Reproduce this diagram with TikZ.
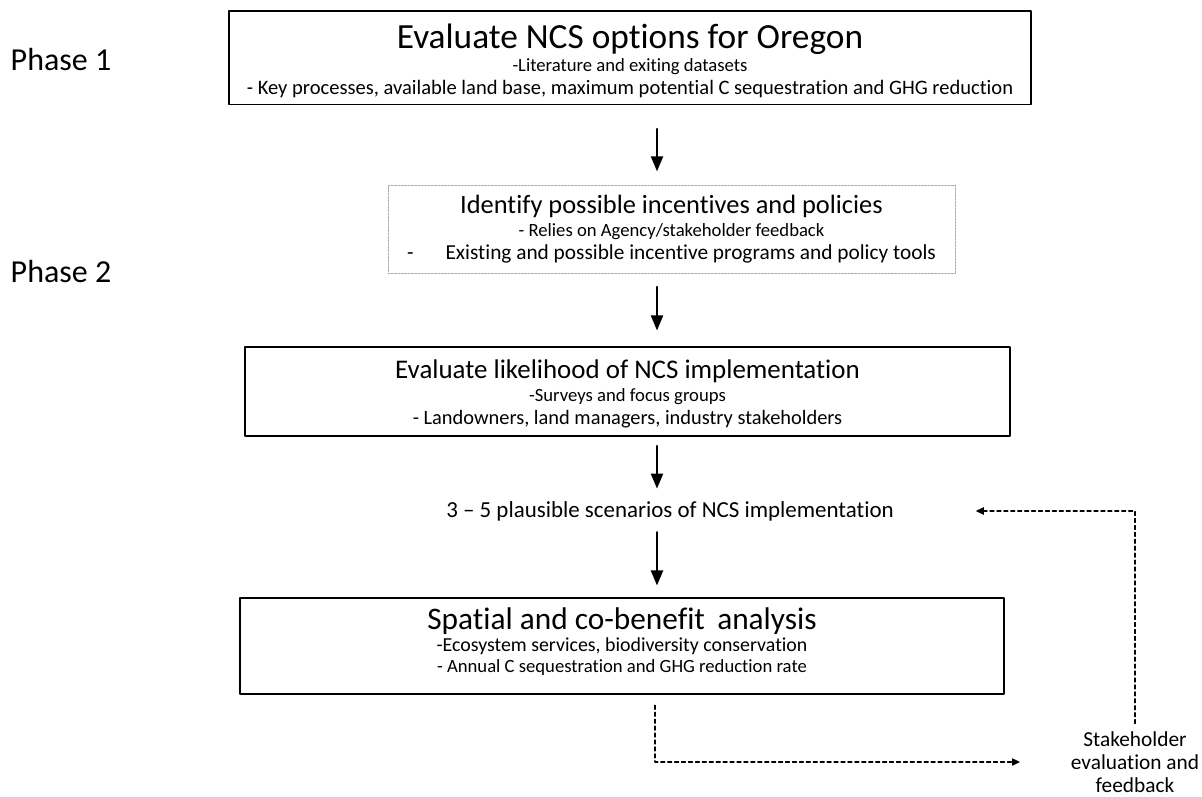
\documentclass[tikz,border=0pt]{standalone}
\usepackage{fontspec}
\setmainfont{Carlito}[Ligatures=NoCommon]
\usetikzlibrary{arrows,arrows.meta}
\usetikzlibrary{calc}
\newcommand{\fs}[2]{\fontsize{#1}{#2}\selectfont\lineskiplimit=-30pt\relax}
\begin{document}
\begin{tikzpicture}[line cap=round,line join=round,>=triangle 45,x=0.75pt,y=-0.75pt,
  phase/.style={anchor=west,font=\fs{24}{28}},
  stepbox/.style={draw=black,line width=1pt,align=center,inner sep=0pt},
  idbox/.style={draw=gray!65,line width=0.7pt,dash pattern=on 1.5pt off 1pt,align=center,inner sep=0pt},
  flow/.style={->,line width=1.6pt},
  fb/.style={-{Triangle[length=6pt,width=5.5pt]},line width=0.9pt,dash pattern=on 3pt off 2.2pt}]
\useasboundingbox (0,0) rectangle (1202,796);
% phases
\node[phase] (ph1) at (6,60) {Phase 1};
\node[phase] (ph2) at (6,272) {Phase 2};
% boxes
\node[stepbox,font=\fs{15}{17.25},minimum width=601.5pt,minimum height=70pt] (b1) at (630,57.5)
  {\fs{26.5}{30}\rule{0pt}{23pt}Evaluate NCS options for Oregon\\
   \fs{14}{16}-Literature and exiting datasets\\
   \fs{15.4}{17}- Key processes, available land base, maximum potential C sequestration and GHG reduction};
\node[idbox,font=\fs{15}{17},minimum width=425.25pt,minimum height=66pt] (b2) at (671.5,229)
  {\fs{19.8}{24}Identify possible incentives and policies\\
   \fs{14}{16}- Relies on Agency/stakeholder feedback\\
   \fs{16}{18}-\hspace{1.5em}Existing and possible incentive programs and policy tools};
\node[stepbox,font=\fs{15}{17.4},minimum width=573.75pt,minimum height=66.75pt] (b3) at (627.5,391.5)
  {\fs{20.2}{24}\rule{0pt}{18pt}Evaluate likelihood of NCS implementation\\
   \fs{14}{16}-Surveys and focus groups\\
   \fs{15.3}{17}- Landowners, land managers, industry stakeholders};
\node (scen) at (670,511) {\fs{17.2}{20}3 -- 5 plausible scenarios of NCS implementation};
\node[stepbox,font=\fs{15}{16},minimum width=573pt,minimum height=72pt] (b4) at (622,646)
  {\fs{23.5}{27}Spatial and co-benefit\, analysis\\
   \fs{14.9}{16}-Ecosystem services, biodiversity conservation\\
   \fs{14}{16}\rule[-8.5pt]{0pt}{8.5pt}- Annual C sequestration and GHG reduction rate};
\node[align=center,inner sep=1pt,font=\fs{16}{17}] (sh) at (1135,762)
  {Stakeholder\\ evaluation and\\ feedback};
% main flow
\coordinate (ax) at (657,0);
\draw[flow,shorten <=18pt,shorten >=10pt] (b1.south -| ax) -- (b2.north -| ax);
\draw[flow,shorten <=10pt,shorten >=12pt] (b2.south -| ax) -- (b3.north -| ax);
\draw[flow] ([yshift=-7pt]b3.south -| ax) -- ([yshift=6pt]scen.north -| ax);
\draw[flow] ([yshift=-5pt]scen.south -| ax) -- ([yshift=9pt]b4.north -| ax);
% feedback loop
\draw[fb,shorten <=8pt,shorten >=37pt] (b4.south -| 655,0) |- (sh.west);
\draw[fb,shorten <=5pt,shorten >=58pt] (sh.north) |- (scen.east);
\end{tikzpicture}
\end{document}
